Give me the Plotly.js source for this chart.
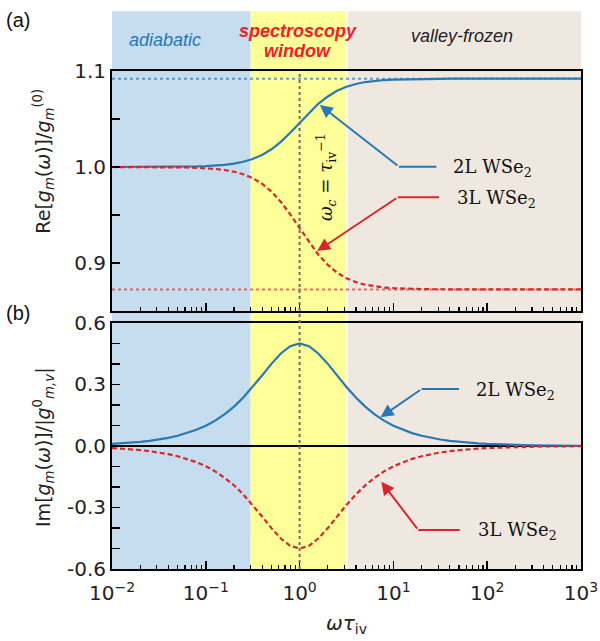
<!DOCTYPE html>
<html>
<head>
<meta charset="utf-8">
<script src="https://cdn.plot.ly/plotly-3.0.1.min.js"></script>
<style>html,body{margin:0;padding:0;background:#fff;}#chart{width:600px;height:641px;}</style>
</head>
<body>
<div id="chart"></div>
<script>
// ωτ_iv sample points
const omegaTau = [0.01, 0.0126, 0.0158, 0.02, 0.0251, 0.0316, 0.0398, 0.0501, 0.0631, 0.0794,
  0.1, 0.126, 0.158, 0.2, 0.251, 0.316, 0.398, 0.501, 0.631, 0.794,
  1, 1.26, 1.58, 2, 2.51, 3.16, 3.98, 5.01, 6.31, 7.94,
  10, 12.6, 15.8, 20, 25.1, 31.6, 39.8, 50.1, 63.1, 79.4,
  100, 126, 158, 200, 251, 316, 398, 501, 631, 794, 1000];
// panel (a): Re[g_m(ω)]/g_m^(0)
const re2L = [1.0000, 1.0000, 1.0000, 1.0000, 1.0001, 1.0001, 1.0001, 1.0002, 1.0004, 1.0006,
  1.0009, 1.0014, 1.0023, 1.0035, 1.0055, 1.0084, 1.0126, 1.0185, 1.0262, 1.0356,
  1.0460, 1.0564, 1.0658, 1.0735, 1.0794, 1.0836, 1.0865, 1.0885, 1.0897, 1.0906,
  1.0911, 1.0914, 1.0916, 1.0918, 1.0919, 1.0919, 1.0920, 1.0920, 1.0920, 1.0920,
  1.0920, 1.0920, 1.0920, 1.0920, 1.0920, 1.0920, 1.0920, 1.0920, 1.0920, 1.0920, 1.0920];
const re3L = [1.0000, 1.0000, 1.0000, 0.9999, 0.9999, 0.9999, 0.9998, 0.9997, 0.9995, 0.9992,
  0.9987, 0.9980, 0.9969, 0.9951, 0.9924, 0.9884, 0.9826, 0.9744, 0.9637, 0.9507,
  0.9363, 0.9218, 0.9088, 0.8981, 0.8899, 0.8841, 0.8801, 0.8774, 0.8756, 0.8745,
  0.8738, 0.8733, 0.8730, 0.8728, 0.8727, 0.8726, 0.8725, 0.8725, 0.8725, 0.8725,
  0.8725, 0.8725, 0.8725, 0.8725, 0.8725, 0.8725, 0.8725, 0.8725, 0.8725, 0.8725, 0.8725];
// panel (b): Im[g_m(ω)]/|g^0_{m,v}|
const im2L = [0.0100, 0.0126, 0.0158, 0.0199, 0.0251, 0.0316, 0.0397, 0.0500, 0.0628, 0.0789,
  0.0990, 0.1239, 0.1546, 0.1919, 0.2363, 0.2875, 0.3436, 0.4006, 0.4513, 0.4870,
  0.5000, 0.4870, 0.4513, 0.4006, 0.3436, 0.2875, 0.2363, 0.1919, 0.1546, 0.1239,
  0.0990, 0.0789, 0.0628, 0.0500, 0.0397, 0.0316, 0.0251, 0.0199, 0.0158, 0.0126,
  0.0100, 0.0079, 0.0063, 0.0050, 0.0040, 0.0032, 0.0025, 0.0020, 0.0016, 0.0013, 0.0010];
const im3L = [-0.0100, -0.0126, -0.0158, -0.0199, -0.0251, -0.0316, -0.0397, -0.0500, -0.0628, -0.0789,
  -0.0990, -0.1239, -0.1546, -0.1919, -0.2363, -0.2875, -0.3436, -0.4006, -0.4513, -0.4870,
  -0.5000, -0.4870, -0.4513, -0.4006, -0.3436, -0.2875, -0.2363, -0.1919, -0.1546, -0.1239,
  -0.0990, -0.0789, -0.0628, -0.0500, -0.0397, -0.0316, -0.0251, -0.0199, -0.0158, -0.0126,
  -0.0100, -0.0079, -0.0063, -0.0050, -0.0040, -0.0032, -0.0025, -0.0020, -0.0016, -0.0013, -0.0010];
// asymptotes (dotted reference lines)
const asym2L = 1.092;
const asym3L = 0.8725;
// regimes
const regimeEdges = [0.01, 0.3, 3.2, 1000];
const regimeNames = ['adiabatic', 'spectroscopy', 'window', 'valley-frozen'];
// tick labels
const xTickVals = [0.01, 0.1, 1, 10, 100, 1000];
const xTickText = ['10<sup>−2</sup>', '10<sup>−1</sup>', '10<sup>0</sup>', '10<sup>1</sup>', '10<sup>2</sup>', '10<sup>3</sup>'];
const yaTickVals = [0.9, 0.95, 1.0, 1.05, 1.1];
const yaTickText = ['0.9', '', '1.0', '', '1.1'];
const ybTickVals = [-0.6, -0.5, -0.4, -0.3, -0.2, -0.1, 0, 0.1, 0.2, 0.3, 0.4, 0.5, 0.6];
const ybTickText = ['-0.6', '', '', '-0.3', '', '', '0.0', '', '', '0.3', '', '', '0.6'];

const BLUE = '#2878b5';
const RED = '#d9262b';
const SANS = 'DejaVu Sans, sans-serif';
const SERIF = 'DejaVu Serif, serif';
const ARIAL = 'Liberation Sans, Arial, sans-serif';

const traces = [
  {x: omegaTau, y: re2L, xaxis: 'x2', yaxis: 'y2', mode: 'lines', line: {color: BLUE, width: 2.2}, hoverinfo: 'skip'},
  {x: omegaTau, y: re3L, xaxis: 'x2', yaxis: 'y2', mode: 'lines', line: {color: RED, width: 2.2, dash: '5px,3px'}, hoverinfo: 'skip'},
  {x: omegaTau, y: im2L, xaxis: 'x', yaxis: 'y', mode: 'lines', line: {color: BLUE, width: 2.2}, hoverinfo: 'skip'},
  {x: omegaTau, y: im3L, xaxis: 'x', yaxis: 'y', mode: 'lines', line: {color: RED, width: 2.2, dash: '5px,3px'}, hoverinfo: 'skip'}
];

const regimeColors = ['rgb(197,221,238)', 'rgb(255,255,153)', 'rgb(239,232,225)'];

const shapes = [];
const annotations = [];
for (let i = 0; i < 3; i++) {
  shapes.push({type: 'rect', xref: 'x', yref: 'paper', x0: regimeEdges[i], x1: regimeEdges[i + 1], y0: 0, y1: 1.12,
    fillcolor: regimeColors[i], line: {width: 0}, layer: 'below'});
}
// regime labels: [name, logX, paperY, font]
const regimeLabels = [
  [regimeNames[0], -1.434, 1.062, {family: ARIAL, size: 18, color: '#1f78b8', style: 'italic'}],
  [regimeNames[1], -0.020, 1.080, {family: ARIAL, size: 18, color: '#f0202a', style: 'italic', weight: 'bold'}],
  [regimeNames[2], -0.020, 1.041, {family: ARIAL, size: 18, color: '#f0202a', style: 'italic', weight: 'bold'}],
  [regimeNames[3], 1.729, 1.070, {family: ARIAL, size: 18, color: '#222222', style: 'italic'}]
];
regimeLabels.forEach(r => annotations.push({xref: 'x', yref: 'paper', x: r[1], y: r[2], text: r[0], showarrow: false,
  xanchor: 'center', yanchor: 'middle', font: r[3]}));

// white separator between window and valley-frozen
shapes.push({type: 'line', xref: 'x', yref: 'paper', x0: regimeEdges[2], x1: regimeEdges[2], y0: 0, y1: 1.12, line: {color: 'white', width: 1.5}, layer: 'below'});
// vertical ω = 1/τ line
shapes.push({type: 'line', xref: 'x', yref: 'paper', x0: 1, x1: 1, y0: 0, y1: 1, line: {color: 'rgb(110,110,100)', width: 2, dash: 'dot'}});
// asymptotes
shapes.push({type: 'line', xref: 'paper', yref: 'y2', x0: 0, x1: 1, y0: asym2L, y1: asym2L, line: {color: 'rgba(40,120,181,0.7)', width: 2, dash: 'dot'}});
shapes.push({type: 'line', xref: 'paper', yref: 'y2', x0: 0, x1: 1, y0: asym3L, y1: asym3L, line: {color: 'rgba(217,38,43,0.65)', width: 2, dash: 'dot'}});

// arrow callouts: [xref, yref, tipLogX, tipY, elbowLogX, elbowY, endLogX, text, textLogX, textY, color]
const callouts = [
  ['x2', 'y2', 0.215, 1.0646, 1.059, 1.0004, 1.458, '2L WSe<sub>2</sub>', 1.611, 0.999, BLUE],
  ['x2', 'y2', 0.187, 0.9124, 1.047, 0.9685, 1.486, '3L WSe<sub>2</sub>', 1.654, 0.967, RED],
  ['x', 'y', 0.863, 0.140, 1.301, 0.278, 1.700, '2L WSe<sub>2</sub>', 1.857, 0.268, BLUE],
  ['x', 'y', 0.871, -0.174, 1.266, -0.410, 1.707, '3L WSe<sub>2</sub>', 1.878, -0.415, RED]
];
callouts.forEach(c => {
  const [xr, yr, tx, ty, ex, ey, hx, txt, lx, ly, col] = c;
  annotations.push({xref: xr, yref: yr, axref: xr, ayref: yr, x: tx, y: ty, ax: ex, ay: ey, text: '',
    showarrow: true, arrowhead: 2, arrowsize: 1.3, arrowwidth: 2, arrowcolor: col, standoff: 0, startstandoff: 0});
  shapes.push({type: 'line', xref: xr, yref: yr, x0: Math.pow(10, ex), x1: Math.pow(10, hx), y0: ey, y1: ey, line: {color: col, width: 2}});
  annotations.push({xref: xr, yref: yr, x: lx, y: ly, text: txt, showarrow: false, xanchor: 'left', yanchor: 'middle',
    font: {family: SERIF, size: 18, color: '#111'}});
});

annotations.push({xref: 'x2', yref: 'y2', x: 0.276, y: 0.99, text: '<i>ω<sub>c</sub></i> = <i>τ</i><sub>iv</sub><sup>−1</sup>',
  textangle: -90, showarrow: false, xanchor: 'center', yanchor: 'middle', font: {family: SERIF, size: 18, color: '#111'}});
annotations.push({xref: 'paper', yref: 'paper', x: -0.2, y: 1.102, text: '(a)', showarrow: false, xanchor: 'center', yanchor: 'middle',
  font: {family: ARIAL, size: 20, color: '#111'}});
annotations.push({xref: 'paper', yref: 'paper', x: -0.2, y: 0.514, text: '(b)', showarrow: false, xanchor: 'center', yanchor: 'middle',
  font: {family: ARIAL, size: 20, color: '#111'}});
// y-axis titles
annotations.push({xref: 'paper', yref: 'paper', x: -0.145, y: 0.82, text: 'Re[<i>g<sub>m</sub></i>(<i>ω</i>)]/<i>g</i><sub><i>m</i></sub><sup>(0)</sup>',
  textangle: -90, showarrow: false, xanchor: 'center', yanchor: 'middle', font: {family: SANS, size: 19, color: '#222'}});
annotations.push({xref: 'paper', yref: 'paper', x: -0.145, y: 0.245, text: 'Im[<i>g<sub>m</sub></i>(<i>ω</i>)]/|<i>g</i><sup>0</sup><sub><i>m,v</i></sub>|',
  textangle: -90, showarrow: false, xanchor: 'center', yanchor: 'middle', font: {family: SANS, size: 19, color: '#222'}});

const axisCommon = {showline: true, linecolor: '#000', linewidth: 2, mirror: true, showgrid: false, zeroline: false,
  ticks: 'inside', ticklen: 8, tickwidth: 1.5, tickcolor: '#000', tickfont: {family: SANS, size: 20, color: '#222'}};

const layout = {
  width: 600, height: 641,
  margin: {l: 112, r: 19, t: 71, b: 72, pad: 0},
  paper_bgcolor: '#fff', plot_bgcolor: 'rgba(0,0,0,0)',
  showlegend: false,
  xaxis: Object.assign({}, axisCommon, {type: 'log', range: [-2, 3], anchor: 'y', tickmode: 'array', tickvals: xTickVals, ticktext: xTickText,
    ticklabelstandoff: 5,
    minor: {ticks: 'inside', ticklen: 4, tickwidth: 1.2, tickcolor: '#000', dtick: 'D1'},
    title: {text: '<i>ωτ</i><sub>iv</sub>', font: {family: SANS, size: 20, color: '#222'}, standoff: 12}}),
  xaxis2: Object.assign({}, axisCommon, {type: 'log', range: [-2, 3], anchor: 'y2', matches: 'x', showticklabels: false, tickmode: 'array', tickvals: xTickVals,
    minor: {ticks: 'inside', ticklen: 4, tickwidth: 1.2, tickcolor: '#000', dtick: 'D1'}}),
  yaxis: Object.assign({}, axisCommon, {domain: [0, 0.494], range: [-0.6, 0.6], anchor: 'x', tickmode: 'array', tickvals: ybTickVals, ticktext: ybTickText,
    zeroline: true, zerolinecolor: '#000', zerolinewidth: 1.2}),
  yaxis2: Object.assign({}, axisCommon, {domain: [0.518, 1], range: [0.85, 1.1], anchor: 'x2', tickmode: 'array', tickvals: yaTickVals, ticktext: yaTickText}),
  shapes: shapes,
  annotations: annotations
};

Plotly.newPlot('chart', traces, layout, {staticPlot: true, displayModeBar: false});
</script>
</body>
</html>
